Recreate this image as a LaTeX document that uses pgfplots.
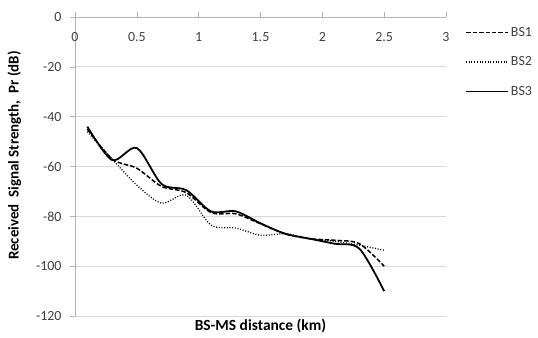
\documentclass[border=0pt]{standalone}
\usepackage{pgfplots}
\pgfplotsset{compat=1.18}
\usepackage{fontspec}
\setmainfont{Carlito}
\begin{document}
\begin{tikzpicture}
\useasboundingbox (-75bp,-22bp) rectangle (463bp,316bp);
\begin{axis}[
  scale only axis, width=371bp, height=299bp,
  xmin=0, xmax=3, ymin=-120, ymax=0,
  xtick={0,0.5,...,3}, ytick={-120,-100,...,0},
  axis x line*=top, axis y line*=left,
  axis line style={gray!60, line width=0.6pt},
  tick style={gray!60, line width=0.6pt},
  tick align=outside, major tick length=5bp,
  ymajorgrids, grid style={gray!30, line width=0.8pt},
  xticklabel style={anchor=north, yshift=-17bp, font=\fontsize{14}{15}\selectfont, text=black!75},
  yticklabel style={xshift=-5bp, font=\fontsize{14}{15}\selectfont, text=black!75},
  /pgf/number format/assume math mode=true,
  xlabel={\textbf{BS-MS distance (km)}},
  xlabel style={at={(0.5,0)}, anchor=north, yshift=0bp, font=\fontsize{15.5}{17}\selectfont},
  ylabel={\textbf{Received\ \ Signal Strength,\ \ Pr (dB)}},
  ylabel style={font=\fontsize{15}{17}\selectfont, yshift=8bp, xshift=11bp},
  legend style={at={(1,1)}, anchor=north west, xshift=16bp, yshift=-6bp, draw=none, fill=none,
     font=\fontsize{14}{15}\selectfont, row sep=15bp, text=black!75},
  legend cell align=left,
  legend image code/.code={\draw[#1] (0bp,0bp) -- (42bp,0bp);},
]
\addplot[black, dashed, line width=1.5pt, smooth, tension=0.5, dash pattern=on 4.5pt off 2pt] coordinates {
(0.1,-45) (0.3,-57) (0.5,-60.7) (0.7,-68) (0.9,-70.5) (1.1,-78.5) (1.3,-79) (1.5,-83) (1.7,-87) (1.9,-89) (2.1,-89.6) (2.3,-91) (2.5,-100)};
\addlegendentry{BS1}
\addplot[black, line width=1.3pt, smooth, tension=0.5, dash pattern=on 1pt off 1.7pt] coordinates {
(0.1,-46) (0.3,-57) (0.5,-67.5) (0.7,-74.7) (0.9,-71.5) (1.1,-83.5) (1.3,-84.7) (1.5,-87.6) (1.7,-87) (1.9,-89) (2.1,-90) (2.3,-91.6) (2.5,-93.6)};
\addlegendentry{BS2}
\addplot[black, line width=1.8pt, smooth, tension=0.5] coordinates {
(0.1,-44) (0.3,-57.4) (0.5,-52.6) (0.7,-67) (0.9,-69.5) (1.1,-78) (1.3,-78) (1.5,-82.8) (1.7,-87) (1.9,-89) (2.1,-91) (2.3,-93) (2.5,-110)};
\addlegendentry{BS3}
\end{axis}
\end{tikzpicture}
\end{document}
